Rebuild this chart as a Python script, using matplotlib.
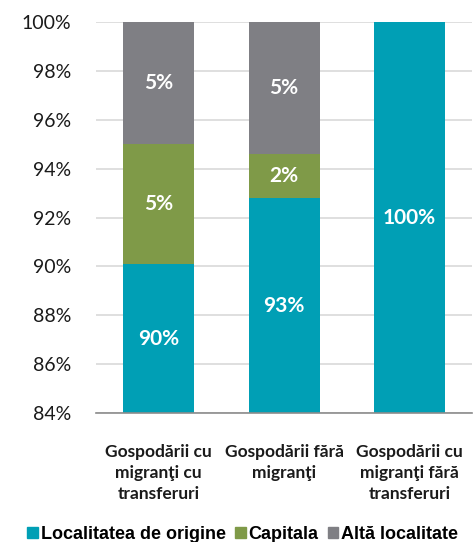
import matplotlib.pyplot as plt
from matplotlib.patches import Patch

# date
categorii = ["Gospodării cu\nmigranţi cu\ntransferuri",
             "Gospodării fără\nmigranţi",
             "Gospodării cu\nmigranţi fără\ntransferuri"]
localitatea_origine = [90.1, 92.8, 100.0]
capitala = [4.9, 1.8, 0.0]
alta_localitate = [5.0, 5.4, 0.0]
serii = ["Localitatea de origine", "Capitala", "Altă localitate"]
culori = ["#009fb5", "#7f9a48", "#7f7f84"]
yticks = [84, 86, 88, 90, 92, 94, 96, 98, 100]

fig = plt.figure(figsize=(4.73, 5.42), dpi=100)
ax = fig.add_axes([0.203, 0.238, 0.795, 0.721])

x = list(range(len(categorii)))
jos = [0.0] * len(x)
ymin, ymax = 84, 100
for valori, culoare in zip([localitatea_origine, capitala, alta_localitate], culori):
    ax.bar(x, valori, bottom=jos, width=0.566, color=culoare, zorder=2)
    for i, v in enumerate(valori):
        if v <= 0:
            continue
        lo = max(jos[i], ymin)
        hi = min(jos[i] + v, ymax)
        ax.text(i, (lo + hi) / 2, f"{round(v):.0f}%", ha="center", va="center",
                color="white", fontsize=15, fontweight="bold", family="Lato", zorder=3)
    jos = [a + b for a, b in zip(jos, valori)]

ax.set_xlim(-0.5, 2.5)
ax.set_ylim(ymin, ymax)
ax.set_yticks(yticks)
ax.set_yticklabels([f"{t}%" for t in yticks], fontsize=14, family="Lato", color="#1a1a1a")
ax.set_xticks(x)
ax.set_xticklabels(categorii, fontsize=12.5, fontweight="bold", family="Lato",
                   color="#1a1a1a", linespacing=1.42)
ax.tick_params(axis="y", length=0, pad=18)
ax.tick_params(axis="x", length=0, pad=22)
ax.grid(axis="y", color="#d9d9d9", linewidth=1.2, zorder=0)
for s in ["left", "right", "top"]:
    ax.spines[s].set_visible(False)
ax.spines["bottom"].set_color("#8c8c8c")
ax.spines["bottom"].set_linewidth(1.2)

handles = [Patch(color=c, label=s) for s, c in zip(serii, culori)]
fig.legend(handles=handles, loc="center left", bbox_to_anchor=(0.058, 0.014),
           ncol=3, frameon=False, handlelength=0.6, handleheight=0.6,
           handletextpad=0.15, columnspacing=0.5, borderpad=0, borderaxespad=0,
           prop={"family": "Liberation Sans", "weight": "bold", "size": 13})

fig.savefig("out.png", dpi=100)
